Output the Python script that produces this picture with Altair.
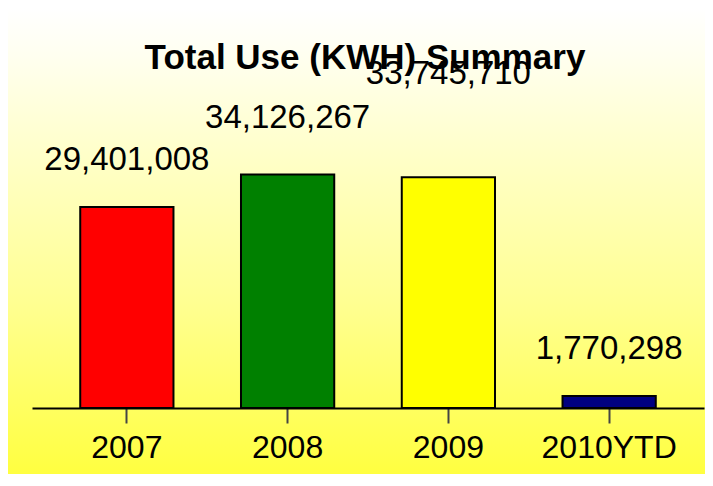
import altair as alt
import pandas as pd

# ---- data ----
categories = ["2007", "2008", "2009", "2010YTD"]
values = [29401008, 34126267, 33745710, 1770298]
bar_colors = ["#FF0000", "#008000", "#FFFF00", "#000080"]
chart_title = "Total Use (KWH) Summary"

# label vertical offsets (layout only, pixels above bar top)
label_dy = [-47, -57, -103, -47]

FONT = "Liberation Sans"
W, H = 672, 342

df = pd.DataFrame({"year": categories, "value": values})

x_enc = alt.X(
    "year:N",
    sort=categories,
    scale=alt.Scale(paddingInner=0.42, paddingOuter=0.3),
    axis=alt.Axis(
        title=None,
        labelAngle=0,
        labelFont=FONT,
        labelFontSize=32,
        labelColor="#000000",
        domainColor="#000000",
        domainWidth=2,
        tickColor="#444444",
        tickSize=15,
        tickWidth=2,
        labelPadding=9,
        grid=False,
        zindex=1,
    ),
)
y_enc = alt.Y("value:Q", scale=alt.Scale(domain=[0, 50000000]), axis=None)

gradient = alt.Gradient(
    gradient="linear",
    stops=[
        alt.GradientStop(color="#FFFFFF", offset=0),
        alt.GradientStop(color="#FFFFF0", offset=0.1),
        alt.GradientStop(color="#FFFFC8", offset=0.32),
        alt.GradientStop(color="#FFFF90", offset=0.64),
        alt.GradientStop(color="#FFFF40", offset=1),
    ],
    x1=0, x2=0, y1=0, y2=1,
)

bg = alt.Chart(pd.DataFrame({"a": [0]})).mark_rect(color=gradient).encode(
    x=alt.value(-24), x2=alt.value(W + 1), y=alt.value(-58), y2=alt.value(H + 66)
)

bars = alt.Chart(df).mark_bar(stroke="#000000", strokeWidth=2).encode(
    x=x_enc,
    y=y_enc,
    color=alt.Color("year:N", scale=alt.Scale(domain=categories, range=bar_colors), legend=None),
)

label_layers = []
for cat, dy in zip(categories, label_dy):
    label_layers.append(
        alt.Chart(df)
        .transform_filter(alt.datum.year == cat)
        .mark_text(font=FONT, fontSize=33, color="#000000", baseline="middle", dy=dy)
        .encode(x=x_enc, y=y_enc, text=alt.Text("value:Q", format=",.0f"))
    )

title = alt.Chart(pd.DataFrame({"t": [chart_title]})).mark_text(
    font=FONT, fontSize=35, fontWeight="bold", color="#000000", baseline="alphabetic", align="center"
).encode(text="t:N", x=alt.value(333), y=alt.value(3))

chart = alt.layer(bg, bars, title, *label_layers).properties(
    width=W,
    height=H,
    autosize="none",
    padding={"left": 24, "top": 58, "right": 1, "bottom": 66},
).configure_view(stroke=None)

chart.save("out.html", embed_options={"renderer": "svg", "actions": False})
